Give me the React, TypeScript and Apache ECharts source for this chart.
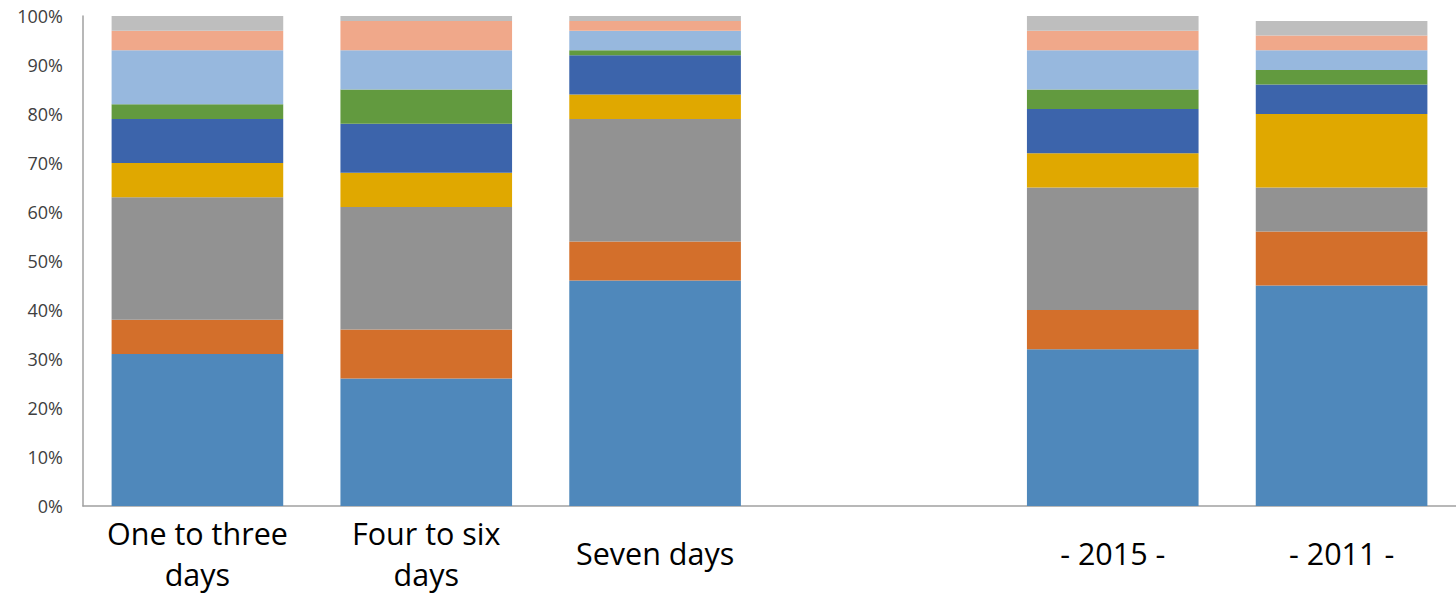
import React, { useEffect, useRef } from "react";
import * as echarts from "echarts";

const categories = ["One to three\ndays", "Four to six\ndays", "Seven days", "", "- 2015 -", "- 2011 -"];
const singleLine = [false, false, true, true, true, true];
const yTicks = [0, 10, 20, 30, 40, 50, 60, 70, 80, 90, 100];

const s1 = [31, 26, 46, null, 32, 45];
const s2 = [7, 10, 8, null, 8, 11];
const s3 = [25, 25, 25, null, 25, 9];
const s4 = [7, 7, 5, null, 7, 15];
const s5 = [9, 10, 8, null, 9, 6];
const s6 = [3, 7, 1, null, 4, 3];
const s7 = [11, 8, 4, null, 8, 4];
const s8 = [4, 6, 2, null, 4, 3];
const s9 = [3, 1, 1, null, 3, 3];

const seriesValues = [s1, s2, s3, s4, s5, s6, s7, s8, s9];
const seriesNames = ["S1", "S2", "S3", "S4", "S5", "S6", "S7", "S8", "S9"];
const colors = ["#4f88bb", "#d36f2b", "#929292", "#e0a800", "#3c64ab", "#629a3f", "#97b8de", "#f0a88a", "#bebebe"];

export default function App() {
  const ref = useRef<HTMLDivElement>(null);
  useEffect(() => {
    if (!ref.current) return;
    const chart = echarts.init(ref.current, undefined, { renderer: "svg" });
    chart.setOption({
      animation: false,
      backgroundColor: "#ffffff",
      grid: { left: 83, top: 16, width: 1377, height: 495, containLabel: false },
      xAxis: {
        type: "category",
        data: categories.map((c, i) =>
          singleLine[i] ? { value: c, textStyle: { lineHeight: 82 } } : { value: c }
        ),
        axisLine: { show: true, lineStyle: { color: "#a0a0a0", width: 1.5 } },
        axisTick: { show: false },
        axisLabel: {
          interval: 0,
          margin: 6,
          fontFamily: "Open Sans",
          fontSize: 30.5,
          lineHeight: 41,
          color: "#000000",
        },
      },
      yAxis: {
        type: "value",
        min: yTicks[0],
        max: yTicks[yTicks.length - 1],
        interval: 10,
        splitLine: { show: false },
        axisLine: { show: true, lineStyle: { color: "#a0a0a0", width: 1.5 } },
        axisTick: { show: false },
        axisLabel: {
          formatter: "{value}%",
          margin: 20,
          fontFamily: "Open Sans",
          fontSize: 18,
          color: "#404040",
        },
      },
      series: seriesValues.map((vals, i) => ({
        type: "bar",
        name: seriesNames[i],
        stack: "total",
        barWidth: "75%",
        data: vals,
        itemStyle: { color: colors[i] },
      })),
    });
    return () => chart.dispose();
  }, []);
  return (
    <div
      ref={ref}
      style={{ position: "fixed", left: 0, top: 0, width: 1456, height: 594, background: "#fff" }}
    />
  );
}
